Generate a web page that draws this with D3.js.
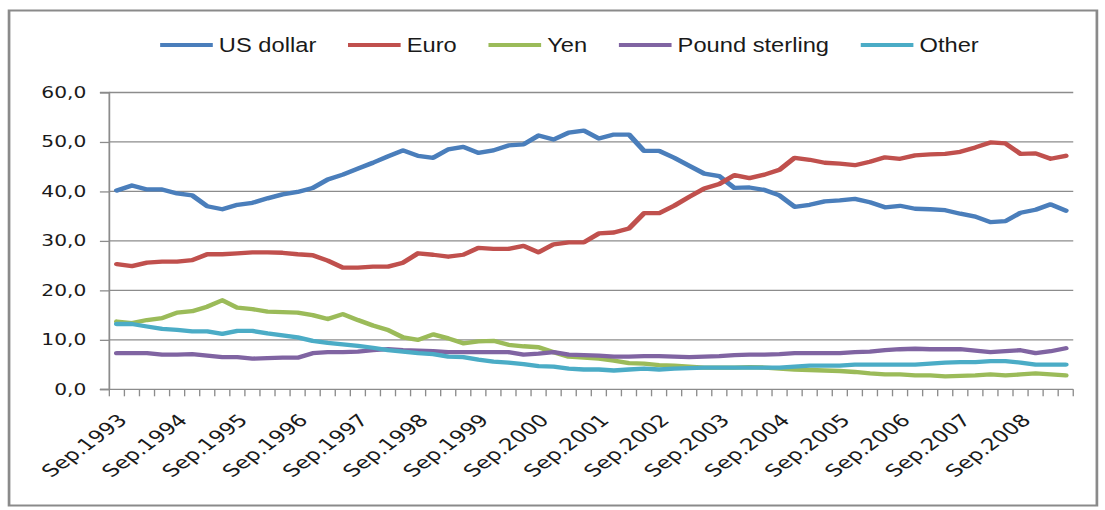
<!DOCTYPE html>
<html>
<head>
<meta charset="utf-8">
<script src="https://cdn.jsdelivr.net/npm/d3@7"></script>
<style>
  html, body { margin: 0; padding: 0; background: #fff; }
  svg { display: block; }
</style>
</head>
<body>
<svg id="chart"></svg>
<script>
const width = 1105;
const height = 510;
// the picture is stretched sideways, so draw in a narrower box and let the viewBox widen it
const stretch = 1.35;
const innerW = width / stretch;

// quarterly categories, Sep.1993 .. Jun.2009
const months = ["Sep", "Dec", "Mar", "Jun"];
const categories = d3.range(64).map((i) => months[i % 4] + "." + (1993 + Math.floor((i + 2) / 4)));

const xTickLabels = [
  "Sep.1993", "Sep.1994", "Sep.1995", "Sep.1996", "Sep.1997", "Sep.1998",
  "Sep.1999", "Sep.2000", "Sep.2001", "Sep.2002", "Sep.2003", "Sep.2004",
  "Sep.2005", "Sep.2006", "Sep.2007", "Sep.2008"
];
const yTicks = [0, 10, 20, 30, 40, 50, 60];

const usDollar = [
  40.2, 41.2, 40.4, 40.4, 39.6, 39.2, 37.0, 36.4, 37.3, 37.7, 38.6, 39.4, 39.9, 40.7, 42.4, 43.4,
  44.6, 45.8, 47.1, 48.3, 47.2, 46.8, 48.5, 49.0, 47.8, 48.3, 49.3, 49.5, 51.3, 50.5, 51.9, 52.3,
  50.7, 51.5, 51.5, 48.2, 48.2, 46.8, 45.2, 43.6, 43.1, 40.7, 40.8, 40.3, 39.2, 36.9, 37.3, 38.0,
  38.2, 38.5, 37.8, 36.8, 37.1, 36.5, 36.4, 36.2, 35.5, 34.9, 33.8, 34.0, 35.7, 36.3, 37.4, 36.1
];
const euro = [
  25.3, 24.9, 25.6, 25.8, 25.8, 26.1, 27.3, 27.3, 27.5, 27.7, 27.7, 27.6, 27.3, 27.1, 26.0, 24.6,
  24.6, 24.8, 24.8, 25.6, 27.5, 27.2, 26.8, 27.2, 28.6, 28.4, 28.4, 29.0, 27.7, 29.3, 29.7, 29.7,
  31.5, 31.7, 32.5, 35.6, 35.6, 37.1, 38.9, 40.6, 41.5, 43.3, 42.7, 43.4, 44.4, 46.8, 46.4, 45.8,
  45.6, 45.3, 46.0, 46.9, 46.6, 47.3, 47.5, 47.6, 48.0, 48.9, 49.9, 49.7, 47.6, 47.7, 46.6, 47.2
];
const yen = [
  13.7, 13.4, 14.0, 14.4, 15.5, 15.8, 16.7, 18.0, 16.5, 16.2, 15.7, 15.6, 15.5, 15.0, 14.2, 15.2,
  14.0, 12.9, 12.0, 10.5, 10.0, 11.1, 10.3, 9.3, 9.7, 9.8, 9.0, 8.7, 8.5, 7.5, 6.6, 6.4,
  6.2, 5.8, 5.3, 5.2, 4.9, 4.8, 4.6, 4.4, 4.4, 4.4, 4.5, 4.4, 4.2, 4.0, 3.9, 3.8,
  3.7, 3.5, 3.2, 3.0, 3.0, 2.8, 2.8, 2.6, 2.7, 2.8, 3.0, 2.8, 3.0, 3.2, 3.0, 2.8
];
const poundSterling = [
  7.3, 7.3, 7.3, 7.0, 7.0, 7.1, 6.8, 6.5, 6.5, 6.2, 6.3, 6.4, 6.4, 7.3, 7.5, 7.5,
  7.6, 7.9, 8.1, 7.9, 7.8, 7.7, 7.5, 7.5, 7.5, 7.5, 7.5, 7.0, 7.2, 7.5, 7.0, 6.9,
  6.8, 6.6, 6.6, 6.7, 6.7, 6.6, 6.5, 6.6, 6.7, 6.9, 7.0, 7.0, 7.1, 7.3, 7.3, 7.3,
  7.3, 7.5, 7.6, 7.9, 8.1, 8.2, 8.1, 8.1, 8.1, 7.8, 7.5, 7.7, 7.9, 7.3, 7.7, 8.3
];
const other = [
  13.2, 13.2, 12.7, 12.2, 12.0, 11.7, 11.7, 11.2, 11.8, 11.8, 11.3, 10.9, 10.5, 9.8, 9.4, 9.1,
  8.8, 8.4, 7.9, 7.6, 7.3, 7.1, 6.6, 6.5, 6.0, 5.6, 5.4, 5.1, 4.7, 4.6, 4.2, 4.0,
  4.0, 3.8, 4.0, 4.2, 4.0, 4.2, 4.3, 4.4, 4.4, 4.4, 4.4, 4.4, 4.4, 4.6, 4.8, 4.8,
  4.8, 5.0, 5.0, 5.0, 5.0, 5.0, 5.2, 5.4, 5.5, 5.5, 5.7, 5.7, 5.4, 5.0, 5.0, 5.0
];

const seriesNames = ["US dollar", "Euro", "Yen", "Pound sterling", "Other"];
const seriesColors = ["#4a7ebb", "#c0504d", "#9bbb59", "#8064a2", "#4bacc6"];
const seriesValues = [usDollar, euro, yen, poundSterling, other];

const margin = { top: 92.5, right: innerW - 795, bottom: height - 389.3, left: 81 };

const svg = d3
  .select("#chart")
  .attr("width", width)
  .attr("height", height)
  .attr("viewBox", "0 0 " + innerW + " " + height)
  .attr("preserveAspectRatio", "none");

// outer frame
svg
  .append("rect")
  .attr("x", 6.7)
  .attr("y", 10.5)
  .attr("width", innerW - 6.7 - 6)
  .attr("height", 495)
  .attr("fill", "#fff")
  .attr("stroke", "#8a8a8a")
  .attr("stroke-width", 2);

const xScale = d3
  .scaleBand()
  .domain(categories)
  .range([margin.left, innerW - margin.right])
  .padding(0);

const yScale = d3
  .scaleLinear()
  .domain([0, 60])
  .range([height - margin.bottom, margin.top]);

const comma = d3.formatLocale({ decimal: ",", thousands: ".", grouping: [3], currency: ["", ""] }).format(".1f");

// gridlines
svg
  .append("g")
  .selectAll("line")
  .data(yTicks.filter((d) => d > 0))
  .enter()
  .append("line")
  .attr("x1", margin.left)
  .attr("x2", innerW - margin.right)
  .attr("y1", (d) => yScale(d))
  .attr("y2", (d) => yScale(d))
  .attr("stroke", "#8c8c8c")
  .attr("stroke-width", 1.3);

// y axis
const yAxis = d3.axisLeft(yScale).tickValues(yTicks).tickSize(7).tickPadding(10).tickFormat(comma);
const yG = svg.append("g").attr("transform", "translate(" + margin.left + ",0)").call(yAxis);
yG.selectAll("path, line").attr("stroke", "#8c8c8c").attr("stroke-width", 1.3);
yG.selectAll("text")
  .attr("font-family", "'DejaVu Sans', Verdana, sans-serif")
  .attr("font-size", 15)
  .attr("fill", "#1a1a1a");
yG.select(".domain").attr("d", "M-7," + yScale(0) + "H0V" + yScale(60) + "H-7");

// x axis: ticks between categories
const xG = svg.append("g");
const y0 = yScale(0);
xG.append("line")
  .attr("x1", margin.left - 7)
  .attr("x2", innerW - margin.right)
  .attr("y1", y0)
  .attr("y2", y0)
  .attr("stroke", "#8c8c8c")
  .attr("stroke-width", 1.3);
xG.selectAll(".tick")
  .data(categories.concat(["end"]))
  .enter()
  .append("line")
  .attr("class", "tick")
  .attr("x1", (d) => (d === "end" ? xScale.range()[1] : xScale(d)))
  .attr("x2", (d) => (d === "end" ? xScale.range()[1] : xScale(d)))
  .attr("y1", y0)
  .attr("y2", y0 + 7)
  .attr("stroke", "#8c8c8c")
  .attr("stroke-width", 1);
xG.selectAll(".label")
  .data(xTickLabels)
  .enter()
  .append("text")
  .attr("class", "label")
  .attr("transform", (d) => "translate(" + (xScale(d) + xScale.bandwidth() / 2 + 8.5) + "," + (y0 + 32) + ") rotate(-45)")
  .attr("text-anchor", "end")
  .attr("font-family", "'DejaVu Sans', Verdana, sans-serif")
  .attr("font-size", 17)
  .attr("fill", "#1a1a1a")
  .text((d) => d);

// series lines
const line = d3
  .line()
  .x((d, i) => xScale(categories[i]) + xScale.bandwidth() / 2)
  .y((d) => yScale(d));

svg
  .append("g")
  .selectAll("path")
  .data(seriesValues)
  .enter()
  .append("path")
  .attr("d", (d) => line(d))
  .attr("fill", "none")
  .attr("stroke", (d, i) => seriesColors[i])
  .attr("stroke-width", 4.3)
  .attr("stroke-linejoin", "round")
  .attr("stroke-linecap", "round");

// legend
const legend = svg.append("g").attr("transform", "translate(0,45)");
const items = legend
  .selectAll("g")
  .data(seriesNames)
  .enter()
  .append("g");
items
  .append("line")
  .attr("x1", 0)
  .attr("x2", 39)
  .attr("stroke", (d, i) => seriesColors[i])
  .attr("stroke-width", 4);
const textScale = 0.9;
items
  .append("text")
  .attr("transform", "translate(43.5,7) scale(" + textScale + ",1)")
  .attr("font-family", "'Liberation Sans', Arial, sans-serif")
  .attr("font-size", 19.5)
  .attr("fill", "#1a1a1a")
  .text((d) => d);

let pos = 0;
const offsets = [];
items.each(function () {
  offsets.push(pos);
  const w = d3.select(this).select("text").node().getComputedTextLength() * textScale;
  pos += 43.5 + w + 23.5;
});
const total = pos - 23.5;
const startX = 421.8 - total / 2;
items.attr("transform", (d, i) => "translate(" + (startX + offsets[i]) + ",0)");
</script>
</body>
</html>
